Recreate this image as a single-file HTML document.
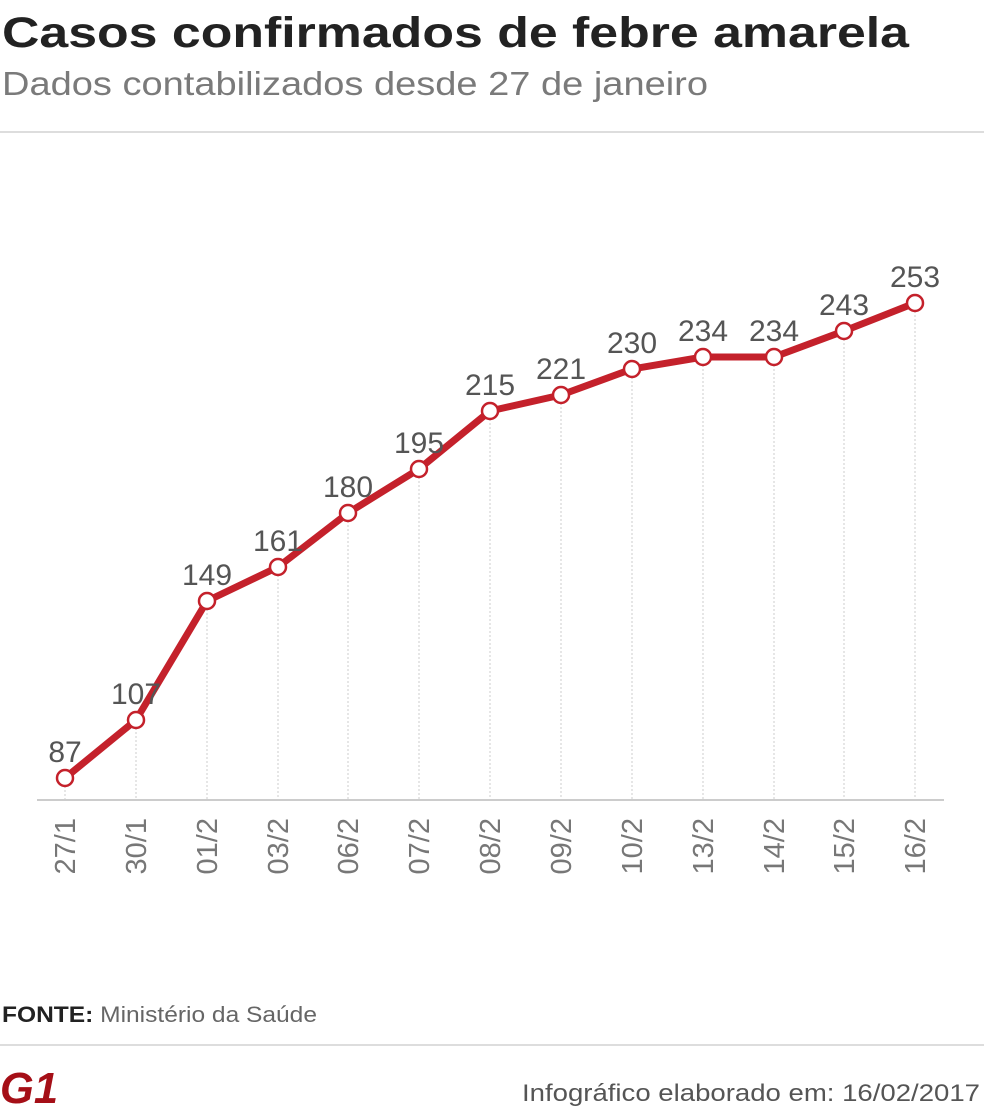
<!DOCTYPE html>
<html><head><meta charset="utf-8"><style>
html,body{margin:0;padding:0;background:#fff;}
svg{display:block;}
text{font-family:"Liberation Sans",sans-serif;}
</style></head><body>
<svg width="984" height="1111" viewBox="0 0 984 1111">
<text x="2" y="47" font-size="43" font-weight="bold" fill="#222" textLength="907" lengthAdjust="spacingAndGlyphs">Casos confirmados de febre amarela</text>
<text x="2" y="95" font-size="33" fill="#7a7a7a" textLength="706" lengthAdjust="spacingAndGlyphs">Dados contabilizados desde 27 de janeiro</text>
<line x1="0" y1="132" x2="984" y2="132" stroke="#ddd" stroke-width="2"/>
<g stroke="#ccc" stroke-width="1" stroke-dasharray="2,2">
<line x1="65" y1="778" x2="65" y2="800"/><line x1="136" y1="720" x2="136" y2="800"/><line x1="207" y1="601" x2="207" y2="800"/><line x1="278" y1="567" x2="278" y2="800"/><line x1="348" y1="513" x2="348" y2="800"/><line x1="419" y1="469" x2="419" y2="800"/><line x1="490" y1="411" x2="490" y2="800"/><line x1="561" y1="395" x2="561" y2="800"/><line x1="632" y1="369" x2="632" y2="800"/><line x1="703" y1="357" x2="703" y2="800"/><line x1="774" y1="357" x2="774" y2="800"/><line x1="844" y1="331" x2="844" y2="800"/><line x1="915" y1="303" x2="915" y2="800"/>
</g>
<line x1="37" y1="800" x2="944" y2="800" stroke="#ccc" stroke-width="2"/>
<polyline fill="none" stroke="#c4212b" stroke-width="7" stroke-linejoin="round" points="65,778 136,720 207,601 278,567 348,513 419,469 490,411 561,395 632,369 703,357 774,357 844,331 915,303"/>
<g fill="#fff" stroke="#c4212b" stroke-width="2.5">
<circle cx="65" cy="778" r="8"/><circle cx="136" cy="720" r="8"/><circle cx="207" cy="601" r="8"/><circle cx="278" cy="567" r="8"/><circle cx="348" cy="513" r="8"/><circle cx="419" cy="469" r="8"/><circle cx="490" cy="411" r="8"/><circle cx="561" cy="395" r="8"/><circle cx="632" cy="369" r="8"/><circle cx="703" cy="357" r="8"/><circle cx="774" cy="357" r="8"/><circle cx="844" cy="331" r="8"/><circle cx="915" cy="303" r="8"/>
</g>
<g font-size="30" fill="#555" text-anchor="middle">
<text x="65" y="762">87</text><text x="136" y="704">107</text><text x="207" y="585">149</text><text x="278" y="551">161</text><text x="348" y="497">180</text><text x="419" y="453">195</text><text x="490" y="395">215</text><text x="561" y="379">221</text><text x="632" y="353">230</text><text x="703" y="341">234</text><text x="774" y="341">234</text><text x="844" y="315">243</text><text x="915" y="287">253</text>
</g>
<g font-size="29" fill="#777" text-anchor="end">
<text transform="translate(75,818) rotate(-90)">27/1</text><text transform="translate(146,818) rotate(-90)">30/1</text><text transform="translate(217,818) rotate(-90)">01/2</text><text transform="translate(288,818) rotate(-90)">03/2</text><text transform="translate(358,818) rotate(-90)">06/2</text><text transform="translate(429,818) rotate(-90)">07/2</text><text transform="translate(500,818) rotate(-90)">08/2</text><text transform="translate(571,818) rotate(-90)">09/2</text><text transform="translate(642,818) rotate(-90)">10/2</text><text transform="translate(713,818) rotate(-90)">13/2</text><text transform="translate(784,818) rotate(-90)">14/2</text><text transform="translate(854,818) rotate(-90)">15/2</text><text transform="translate(925,818) rotate(-90)">16/2</text>
</g>
<text x="2" y="1022" font-size="22" fill="#666" textLength="315" lengthAdjust="spacingAndGlyphs"><tspan font-weight="bold" fill="#222">FONTE:</tspan> Ministério da Saúde</text>
<line x1="0" y1="1045" x2="984" y2="1045" stroke="#ddd" stroke-width="2"/>
<text x="0" y="1103" font-size="44" font-weight="bold" fill="#a50f17" font-style="italic" textLength="58" lengthAdjust="spacingAndGlyphs">G1</text>
<text x="980" y="1101" font-size="24" fill="#555" text-anchor="end" textLength="458" lengthAdjust="spacingAndGlyphs">Infográfico elaborado em: 16/02/2017</text>
</svg>
</body></html>
